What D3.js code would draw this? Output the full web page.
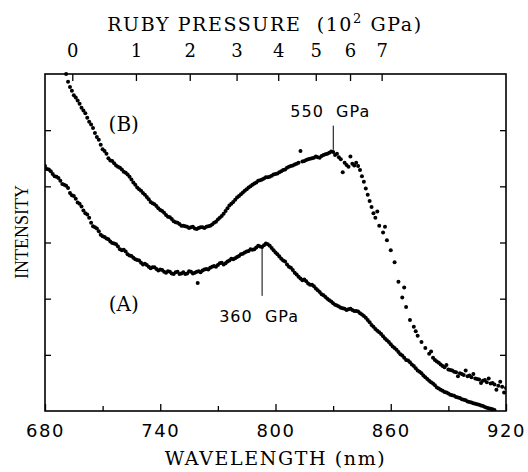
<!DOCTYPE html>
<html>
<head>
<meta charset="utf-8">
<script src="https://cdn.jsdelivr.net/npm/d3@7"></script>
<style>
  body { margin: 0; background: #fff; }
  .tick line { stroke: #000; stroke-width: 1.3; }
</style>
</head>
<body>
<svg id="chart" width="528" height="472"></svg>
<script>
// spectrum (A): [wavelength nm, intensity a.u.]
const specA = [
  [680, 4.36], [681, 4.31], [682, 4.30], [683, 4.27], [684, 4.22], [685, 4.18],
  [686, 4.17], [687, 4.15], [688, 4.10], [689, 4.04], [690, 4.03], [691, 4.01],
  [692, 3.97], [693, 3.88], [694, 3.84], [695, 3.83], [696, 3.78], [697, 3.71],
  [698, 3.69], [699, 3.64], [700, 3.57], [701, 3.52], [702, 3.50], [703, 3.44],
  [704, 3.35], [705, 3.29], [706, 3.27], [707, 3.25], [708, 3.20], [709, 3.14],
  [710, 3.11], [711, 3.10], [712, 3.07], [713, 3.06], [714, 3.02], [715, 2.99],
  [716, 2.98], [717, 2.97], [718, 2.93], [719, 2.88], [720, 2.86], [721, 2.87],
  [722, 2.84], [723, 2.79], [724, 2.77], [725, 2.76], [726, 2.73], [727, 2.70],
  [728, 2.69], [729, 2.68], [730, 2.64], [731, 2.61], [732, 2.62], [733, 2.60],
  [734, 2.57], [735, 2.54], [736, 2.56], [737, 2.56], [738, 2.53], [739, 2.50],
  [740, 2.52], [741, 2.51], [742, 2.48], [743, 2.46], [744, 2.49], [745, 2.48],
  [746, 2.45], [747, 2.44], [748, 2.47], [749, 2.48], [750, 2.44], [751, 2.45],
  [752, 2.47], [753, 2.44], [754, 2.45], [755, 2.49], [756, 2.48], [757, 2.45],
  [758, 2.46], [759, 2.48], [759.5, 2.28], [760, 2.49], [761, 2.47], [762, 2.50],
  [763, 2.52], [764, 2.53], [765, 2.52], [766, 2.55], [767, 2.57], [768, 2.58],
  [769, 2.57], [770, 2.60], [771, 2.63], [772, 2.64], [773, 2.61], [774, 2.63],
  [775, 2.66], [776, 2.68], [777, 2.71], [778, 2.70], [779, 2.72], [780, 2.74],
  [781, 2.76], [782, 2.79], [783, 2.80], [784, 2.82], [785, 2.84], [786, 2.85],
  [787, 2.88], [788, 2.87], [789, 2.88], [790, 2.91], [791, 2.94], [792, 2.93],
  [793, 2.92], [794, 2.95], [795, 2.98], [796, 2.97], [797, 2.94], [798, 2.90],
  [799, 2.86], [800, 2.82], [801, 2.79], [802, 2.75], [803, 2.71], [804, 2.68],
  [805, 2.66], [806, 2.61], [807, 2.57], [808, 2.55], [809, 2.51], [810, 2.46],
  [811, 2.43], [812, 2.39], [813, 2.36], [814, 2.33], [815, 2.34], [816, 2.31],
  [817, 2.27], [818, 2.25], [819, 2.25], [820, 2.22], [821, 2.18], [822, 2.15],
  [823, 2.12], [824, 2.08], [825, 2.06], [826, 2.03], [827, 2.00], [828, 1.97],
  [829, 1.95], [830, 1.92], [831, 1.89], [832, 1.88], [833, 1.86], [834, 1.84],
  [835, 1.83], [836, 1.82], [837, 1.80], [838, 1.81], [839, 1.82], [840, 1.80],
  [841, 1.78], [842, 1.78], [843, 1.77], [844, 1.74], [845, 1.72], [846, 1.69],
  [847, 1.66], [848, 1.62], [849, 1.58], [850, 1.53], [851, 1.50], [852, 1.46],
  [853, 1.43], [854, 1.40], [855, 1.37], [856, 1.33], [857, 1.29], [858, 1.26],
  [859, 1.23], [860, 1.19], [861, 1.15], [862, 1.12], [863, 1.09], [864, 1.05],
  [865, 1.01], [866, 0.99], [867, 0.95], [868, 0.91], [869, 0.90], [870, 0.87],
  [871, 0.83], [872, 0.80], [873, 0.76], [874, 0.72], [875, 0.70], [876, 0.67],
  [877, 0.63], [878, 0.60], [879, 0.57], [880, 0.54], [881, 0.51], [882, 0.49],
  [883, 0.46], [884, 0.42], [885, 0.40], [886, 0.38], [887, 0.36], [888, 0.34],
  [889, 0.33], [890, 0.31], [891, 0.29], [892, 0.28], [893, 0.27], [894, 0.25],
  [895, 0.24], [896, 0.23], [897, 0.21], [898, 0.20], [899, 0.19], [900, 0.17],
  [901, 0.16], [902, 0.15], [903, 0.14], [904, 0.13], [905, 0.12], [906, 0.11],
  [907, 0.10], [908, 0.09], [909, 0.07], [910, 0.06], [911, 0.05], [912, 0.04],
  [913, 0.03], [914, 0.02]
]

// spectrum (B)
const specB = [
  [691, 6.00], [692, 5.86], [693, 5.77], [694, 5.70], [695, 5.62], [696, 5.58],
  [697, 5.53], [698, 5.47], [699, 5.40], [700, 5.35], [701, 5.30], [702, 5.22],
  [703, 5.15], [704, 5.10], [705, 5.04], [706, 4.95], [707, 4.88], [708, 4.83],
  [709, 4.74], [710, 4.66], [711, 4.63], [712, 4.58], [713, 4.50], [714, 4.46],
  [715, 4.45], [716, 4.41], [717, 4.37], [718, 4.35], [719, 4.33], [720, 4.30],
  [721, 4.26], [722, 4.24], [723, 4.21], [724, 4.17], [725, 4.12], [726, 4.07],
  [727, 4.03], [728, 3.98], [729, 3.95], [730, 3.92], [731, 3.88], [732, 3.85],
  [733, 3.81], [734, 3.77], [735, 3.72], [736, 3.70], [737, 3.68], [738, 3.65],
  [739, 3.61], [740, 3.58], [741, 3.56], [742, 3.53], [743, 3.49], [744, 3.46],
  [745, 3.45], [746, 3.42], [747, 3.38], [748, 3.36], [749, 3.35], [750, 3.33],
  [751, 3.30], [752, 3.30], [753, 3.29], [754, 3.28], [755, 3.26], [756, 3.27],
  [757, 3.28], [758, 3.25], [759, 3.24], [760, 3.26], [761, 3.27], [762, 3.27],
  [763, 3.26], [764, 3.28], [765, 3.29], [766, 3.30], [767, 3.32], [768, 3.35],
  [769, 3.37], [770, 3.41], [771, 3.44], [772, 3.47], [773, 3.51], [774, 3.56],
  [775, 3.61], [776, 3.66], [777, 3.69], [778, 3.72], [779, 3.76], [780, 3.80],
  [781, 3.83], [782, 3.86], [783, 3.89], [784, 3.92], [785, 3.95], [786, 3.98],
  [787, 4.00], [788, 4.03], [789, 4.05], [790, 4.07], [791, 4.10], [792, 4.11],
  [793, 4.12], [794, 4.14], [795, 4.16], [796, 4.16], [797, 4.17], [798, 4.19],
  [799, 4.21], [800, 4.22], [801, 4.23], [802, 4.25], [803, 4.27], [804, 4.29],
  [805, 4.30], [806, 4.33], [807, 4.35], [808, 4.36], [809, 4.37], [810, 4.39],
  [811, 4.40], [812, 4.42], [813, 4.63], [814, 4.44], [815, 4.45], [816, 4.47],
  [817, 4.48], [818, 4.49], [819, 4.50], [820, 4.51], [821, 4.53], [822, 4.52],
  [823, 4.51], [824, 4.54], [825, 4.56], [826, 4.57], [827, 4.58], [828, 4.60],
  [829, 4.62], [830, 4.61], [831, 4.56], [832, 4.58], [833, 4.52], [834, 4.48],
  [835, 4.25], [836, 4.42], [837, 4.38], [838, 4.35], [839, 4.53], [840, 4.40],
  [841, 4.37], [842, 4.42], [843, 4.36], [844, 4.29], [845, 4.18], [846, 4.08],
  [847, 3.96], [848, 3.85], [849, 3.74], [850, 3.63], [851, 3.52], [852, 3.44],
  [853, 3.55], [854, 3.30], [856, 3.18], [857, 3.28], [858, 3.04], [860, 2.86],
  [862, 2.65], [864, 2.30], [866, 2.02], [867, 2.20], [868, 1.85], [870, 1.62],
  [872, 1.50], [873, 1.42], [874, 1.34], [876, 1.23], [878, 1.12], [880, 1.02],
  [881, 1.06], [882, 0.95], [883, 0.91], [884, 0.88], [885, 0.86], [886, 0.83],
  [887, 0.80], [888, 0.78], [889, 0.82], [890, 0.74], [891, 0.73], [892, 0.72],
  [893, 0.70], [894, 0.69], [895, 0.62], [896, 0.67], [897, 0.66], [898, 0.64],
  [899, 0.72], [900, 0.62], [901, 0.63], [902, 0.60], [903, 0.66], [904, 0.58],
  [905, 0.57], [906, 0.56], [907, 0.50], [908, 0.54], [909, 0.55], [910, 0.51],
  [911, 0.58], [912, 0.49], [913, 0.50], [914, 0.47], [915, 0.38], [916, 0.45],
  [917, 0.52], [918, 0.43], [919, 0.33], [920, 0.41]
]

const waveTicks = [680, 710, 740, 770, 800, 830, 860, 890, 920]
const waveLabels = [680, 740, 800, 860, 920]
const pressureTicks = [0, 1, 2, 3, 4, 5, 6, 7] // units of 10^2 GPa
const intensityTicks = [1, 2, 3, 4, 5]
const peakMarks = [
  { text: '550  GPa', gpa: 550, from: 4.65, to: 5.08, labelY: 117 },
  { text: '360  GPa', gpa: 360, from: 2.90, to: 2.05, labelY: 322 }
]
const curveNames = [
  { text: '(B)', wave: 721, y: 131 },
  { text: '(A)', wave: 721, y: 311 }
]

// ruby R1 line gauge: pressure (GPa) -> wavelength (nm)
function rubyWave (gpa) {
  return 694.2 * Math.pow(1 + 5 * gpa / 1904, 1 / 5)
}

const svg = d3.select('#chart')
const mLeft = 45
const mRight = 506
const mTop = 74
const mBottom = 411
const serif = 'DejaVu Serif'

const x = d3.scaleLinear().domain([680, 920]).range([mLeft, mRight])
const y = d3.scaleLinear().domain([0, 6]).range([mBottom, mTop])

const plot = svg.append('g')
plot.append('clipPath').attr('id', 'clip')
  .append('rect')
  .attr('x', mLeft).attr('y', mTop - 2)
  .attr('width', mRight - mLeft).attr('height', mBottom - mTop + 2)

// data dots
const dots = plot.append('g').attr('clip-path', 'url(#clip)')
dots.selectAll('circle.a')
  .data(specA)
  .join('circle')
  .attr('class', 'a')
  .attr('cx', d => x(d[0]))
  .attr('cy', d => y(d[1]))
  .attr('r', 2)
  .attr('fill', '#000')
dots.selectAll('circle.b')
  .data(specB)
  .join('circle')
  .attr('class', 'b')
  .attr('cx', d => x(d[0]))
  .attr('cy', d => y(d[1]))
  .attr('r', 2)
  .attr('fill', '#000')

// bottom axis
const xAxis = svg.append('g')
  .attr('transform', 'translate(0,' + mBottom + ')')
  .call(d3.axisBottom(x)
    .tickValues(waveTicks)
    .tickSizeInner(-6)
    .tickSizeOuter(0)
    .tickPadding(13)
    .tickFormat(d => waveLabels.includes(d) ? d : ''))
xAxis.select('.domain').remove()
xAxis.selectAll('.tick line')
  .attr('y2', d => waveLabels.includes(d) ? -7 : -5)
xAxis.selectAll('text')
  .attr('font-family', 'DejaVu Sans')
  .attr('font-size', 18)
  .attr('letter-spacing', 1.5)
  .attr('fill', '#000')

// top axis: ruby pressure
const topAxis = svg.append('g')
  .attr('transform', 'translate(0,' + mTop + ')')
  .call(d3.axisTop(x)
    .tickValues(pressureTicks.map(p => rubyWave(p * 100)))
    .tickSizeInner(-7)
    .tickSizeOuter(0)
    .tickPadding(17)
    .tickFormat((d, i) => pressureTicks[i]))
topAxis.select('.domain').remove()
topAxis.selectAll('text')
  .attr('font-family', serif)
  .attr('font-size', 18)
  .attr('fill', '#000')

// left and right intensity ticks
const yLeft = svg.append('g')
  .attr('transform', 'translate(' + mLeft + ',0)')
  .call(d3.axisLeft(y).tickValues(intensityTicks).tickSize(-6).tickFormat(''))
yLeft.select('.domain').remove()
const yRight = svg.append('g')
  .attr('transform', 'translate(' + mRight + ',0)')
  .call(d3.axisRight(y).tickValues(intensityTicks).tickSize(-6).tickFormat(''))
yRight.select('.domain').remove()

// frame
svg.append('rect')
  .attr('x', mLeft).attr('y', mTop)
  .attr('width', mRight - mLeft).attr('height', mBottom - mTop)
  .attr('fill', 'none')
  .attr('stroke', '#000')
  .attr('stroke-width', 1.6)

// peak markers
peakMarks.forEach(m => {
  const px = x(rubyWave(m.gpa))
  svg.append('line')
    .attr('x1', px).attr('x2', px)
    .attr('y1', y(m.from)).attr('y2', y(m.to))
    .attr('stroke', '#000')
    .attr('stroke-width', 1)
  svg.append('text')
    .attr('x', px - 3).attr('y', m.labelY)
    .attr('text-anchor', 'middle')
    .attr('font-family', 'DejaVu Sans')
    .attr('font-size', 16)
    .attr('letter-spacing', 1)
    .style('white-space', 'pre')
    .text(m.text)
})

// curve names
curveNames.forEach(c => {
  svg.append('text')
    .attr('x', x(c.wave)).attr('y', c.y)
    .attr('text-anchor', 'middle')
    .attr('font-family', serif)
    .attr('font-size', 20)
    .text(c.text)
})

// axis titles
const title = svg.append('text')
  .attr('x', 265).attr('y', 31)
  .attr('text-anchor', 'middle')
  .attr('font-family', serif)
  .attr('font-size', 19)
  .attr('letter-spacing', 1.6)
  .style('white-space', 'pre')
title.append('tspan').text('RUBY PRESSURE  (10')
title.append('tspan').attr('font-size', 13).attr('dy', -8).text('2')
title.append('tspan').attr('dy', 8).text(' GPa)')

svg.append('text')
  .attr('x', (mLeft + mRight) / 2).attr('y', 465)
  .attr('text-anchor', 'middle')
  .attr('font-family', serif)
  .attr('font-size', 19)
  .attr('letter-spacing', 1.6)
  .style('white-space', 'pre')
  .text('WAVELENGTH (nm)')

svg.append('text')
  .attr('transform', 'translate(28,232) rotate(-90)')
  .attr('text-anchor', 'middle')
  .attr('font-family', 'Liberation Serif')
  .attr('font-size', 18)
  .text('INTENSITY')
</script>
</body>
</html>
